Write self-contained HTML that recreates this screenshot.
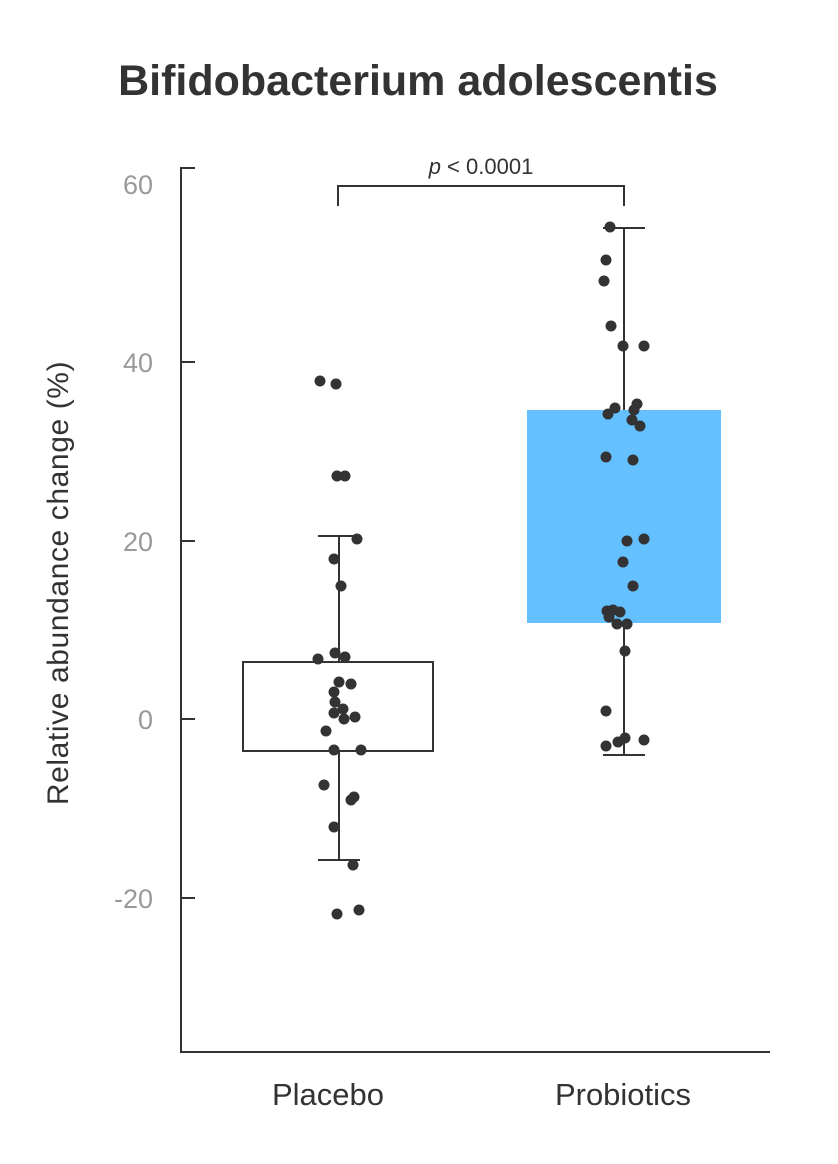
<!DOCTYPE html>
<html><head><meta charset="utf-8"><style>
html,body{margin:0;padding:0;background:#fff;}
svg{display:block;}
text{font-family:"Liberation Sans",sans-serif;}
</style></head><body>
<svg width="838" height="1164" viewBox="0 0 838 1164" xmlns="http://www.w3.org/2000/svg">
<rect width="838" height="1164" fill="#fff"/>
<text x="418" y="95" text-anchor="middle" font-size="43" font-weight="bold" fill="#333">Bifidobacterium adolescentis</text>
<g stroke="#333" stroke-width="2" fill="none">
<path d="M195 168 H181 V1052 H770"/>
<path d="M181 362 H195 M181 541 H195 M181 719 H195 M181 898 H195"/>
<path d="M338 206 V186 H624 V206"/>
</g>
<g font-size="27" fill="#999" text-anchor="end">
<text x="153" y="194">60</text>
<text x="153" y="372">40</text>
<text x="153" y="551">20</text>
<text x="153" y="729">0</text>
<text x="153" y="908">-20</text>
</g>
<text transform="translate(68,583) rotate(-90)" text-anchor="middle" font-size="30" letter-spacing="0.6" fill="#333">Relative abundance change (%)</text>
<text x="481" y="174" text-anchor="middle" font-size="22" fill="#333"><tspan font-style="italic">p</tspan> &lt; 0.0001</text>
<text x="328" y="1105" text-anchor="middle" font-size="31" fill="#333">Placebo</text>
<text x="623" y="1105" text-anchor="middle" font-size="31" fill="#333">Probiotics</text>
<rect x="527" y="410" width="194" height="213" fill="#64c0ff"/>
<rect x="243" y="662" width="190" height="89" fill="#fff" stroke="#333" stroke-width="2"/>
<g stroke="#333" stroke-width="2">
<path d="M339 536 V662 M339 751 V860 M318 536 H360 M318 860 H360"/>
<path d="M624 228 V410 M624 623 V755 M603 228 H645 M603 755 H645"/>
</g>
<g fill="#333">
<circle cx="320" cy="381" r="5.5"/><circle cx="336" cy="384" r="5.5"/><circle cx="337" cy="476" r="5.5"/><circle cx="345" cy="476" r="5.5"/><circle cx="357" cy="539" r="5.5"/><circle cx="334" cy="559" r="5.5"/><circle cx="341" cy="586" r="5.5"/><circle cx="318" cy="659" r="5.5"/><circle cx="335" cy="653" r="5.5"/><circle cx="345" cy="657" r="5.5"/><circle cx="339" cy="682" r="5.5"/><circle cx="351" cy="684" r="5.5"/><circle cx="334" cy="692" r="5.5"/><circle cx="335" cy="702" r="5.5"/><circle cx="343" cy="709" r="5.5"/><circle cx="334" cy="713" r="5.5"/><circle cx="344" cy="719" r="5.5"/><circle cx="355" cy="717" r="5.5"/><circle cx="326" cy="731" r="5.5"/><circle cx="334" cy="750" r="5.5"/><circle cx="361" cy="750" r="5.5"/><circle cx="324" cy="785" r="5.5"/><circle cx="354" cy="797" r="5.5"/><circle cx="351" cy="800" r="5.5"/><circle cx="334" cy="827" r="5.5"/><circle cx="353" cy="865" r="5.5"/><circle cx="337" cy="914" r="5.5"/><circle cx="359" cy="910" r="5.5"/>
<circle cx="610" cy="227" r="5.5"/><circle cx="606" cy="260" r="5.5"/><circle cx="604" cy="281" r="5.5"/><circle cx="611" cy="326" r="5.5"/><circle cx="623" cy="346" r="5.5"/><circle cx="644" cy="346" r="5.5"/><circle cx="615" cy="408" r="5.5"/><circle cx="637" cy="404" r="5.5"/><circle cx="608" cy="414" r="5.5"/><circle cx="634" cy="410" r="5.5"/><circle cx="632" cy="420" r="5.5"/><circle cx="640" cy="426" r="5.5"/><circle cx="606" cy="457" r="5.5"/><circle cx="633" cy="460" r="5.5"/><circle cx="627" cy="541" r="5.5"/><circle cx="644" cy="539" r="5.5"/><circle cx="623" cy="562" r="5.5"/><circle cx="633" cy="586" r="5.5"/><circle cx="607" cy="611" r="5.5"/><circle cx="613" cy="610" r="5.5"/><circle cx="620" cy="612" r="5.5"/><circle cx="609" cy="617" r="5.5"/><circle cx="617" cy="624" r="5.5"/><circle cx="627" cy="624" r="5.5"/><circle cx="625" cy="651" r="5.5"/><circle cx="606" cy="711" r="5.5"/><circle cx="606" cy="746" r="5.5"/><circle cx="625" cy="738" r="5.5"/><circle cx="618" cy="742" r="5.5"/><circle cx="644" cy="740" r="5.5"/>
</g>
</svg>
</body></html>
